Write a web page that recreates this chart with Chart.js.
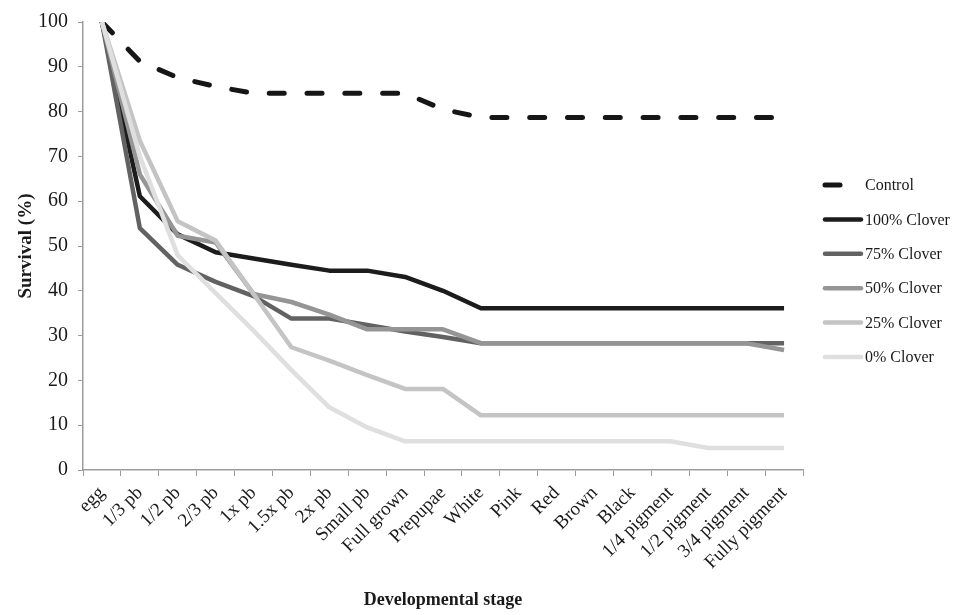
<!DOCTYPE html>
<html>
<head>
<meta charset="utf-8">
<script src="https://cdn.jsdelivr.net/npm/chart.js@4.4.1/dist/chart.umd.min.js"></script>
<style>
  html, body { margin: 0; padding: 0; background: #ffffff; }
  #wrap { width: 972px; height: 615px; }
</style>
</head>
<body>
<div id="wrap"><canvas id="chart" width="972" height="615"></canvas></div>
<script>
// Developmental stages along the x axis
const stages = ['egg', '1/3 pb', '1/2 pb', '2/3 pb', '1x pb', '1.5x pb', '2x pb', 'Small pb',
  'Full grown', 'Prepupae', 'White', 'Pink', 'Red', 'Brown', 'Black',
  '1/4 pigment', '1/2 pigment', '3/4 pigment', 'Fully pigment'];

// Survival (%) per diet
const control   = [100, 91.2, 87.6, 85.6, 84.1, 84.1, 84.1, 84.1, 84.1, 80.5, 78.7, 78.7, 78.7, 78.7, 78.7, 78.7, 78.7, 78.7, 78.7];
const clover100 = [100, 61.1, 52.6, 48.6, 47.2, 45.8, 44.5, 44.5, 43.1, 40.0, 36.1, 36.1, 36.1, 36.1, 36.1, 36.1, 36.1, 36.1, 36.1];
const clover75  = [100, 54.0, 45.8, 42.0, 38.8, 33.8, 33.8, 32.4, 30.9, 29.7, 28.3, 28.3, 28.3, 28.3, 28.3, 28.3, 28.3, 28.3, 28.3];
const clover50  = [100, 66.0, 52.3, 50.8, 39.3, 37.5, 34.7, 31.4, 31.4, 31.4, 28.3, 28.3, 28.3, 28.3, 28.3, 28.3, 28.3, 28.3, 26.8];
const clover25  = [100, 73.5, 55.5, 51.2, 39.3, 27.4, 24.4, 21.2, 18.1, 18.1, 12.2, 12.2, 12.2, 12.2, 12.2, 12.2, 12.2, 12.2, 12.2];
const clover0   = [100, 70.0, 47.9, 39.5, 31.1, 22.3, 14.0, 9.5, 6.4, 6.4, 6.4, 6.4, 6.4, 6.4, 6.4, 6.4, 4.9, 4.9, 4.9];

const seriesNames = ['Control', '100% Clover', '75% Clover', '50% Clover', '25% Clover', '0% Clover'];
const yTicks = [0, 10, 20, 30, 40, 50, 60, 70, 80, 90, 100];

const FONT = 'Liberation Serif';
const AXIS_GREY = '#9c9c9c';
const TEXT = '#1a1a1a';

// Legend drawn at the right: a line sample followed by the series name
const lineLegend = {
  id: 'lineLegend',
  afterDraw(chart) {
    const ctx = chart.ctx;
    const x0 = 825, x1 = 861, textX = 865, top = 185, step = 34.4;
    chart.data.datasets.forEach((ds, i) => {
      const y = top + i * step;
      ctx.save();
      ctx.strokeStyle = ds.borderColor;
      ctx.lineWidth = ds.borderWidth;
      ctx.lineCap = 'round';
      ctx.setLineDash(ds.borderDash ? ds.borderDash : []);
      ctx.beginPath();
      ctx.moveTo(x0, y);
      ctx.lineTo(ds.borderDash ? x0 + ds.borderDash[0] : x1, y);
      ctx.stroke();
      ctx.restore();
      ctx.save();
      ctx.fillStyle = TEXT;
      ctx.font = '16px "' + FONT + '"';
      ctx.textAlign = 'left';
      ctx.textBaseline = 'middle';
      ctx.fillText(ds.label, textX, y + 1);
      ctx.restore();
    });
  }
};

const seriesData = [control, clover100, clover75, clover50, clover25, clover0];
const seriesColors = ['#161616', '#1c1c1c', '#626262', '#959595', '#c4c4c4', '#dfdfdf'];

const datasets = seriesData.map((vals, i) => ({
  label: seriesNames[i],
  data: vals,
  borderColor: seriesColors[i],
  backgroundColor: seriesColors[i],
  borderWidth: i === 0 ? 5 : 4.5,
  borderDash: i === 0 ? [15, 22.8] : undefined,
  borderCapStyle: i === 0 ? 'round' : 'butt',
  borderJoinStyle: 'round',
  pointRadius: 0,
  tension: 0,
  fill: false,
  order: seriesData.length - i
}));

new Chart(document.getElementById('chart'), {
  type: 'line',
  data: { labels: stages, datasets },
  options: {
    responsive: false,
    animation: false,
    devicePixelRatio: 1,
    layout: { padding: { left: 0, right: 169, top: 16, bottom: 0 } },
    plugins: { legend: { display: false }, tooltip: { enabled: false } },
    scales: {
      x: {
        type: 'category',
        offset: true,
        grid: { display: true, offset: true, drawOnChartArea: false, drawTicks: true, tickLength: 6, color: AXIS_GREY, lineWidth: 1 },
        border: { display: true, color: AXIS_GREY, width: 1.5 },
        ticks: { autoSkip: false, minRotation: 45, maxRotation: 45, padding: 6, color: TEXT, font: { family: FONT, size: 19 } },
        title: { display: true, text: 'Developmental stage', color: TEXT, font: { family: FONT, size: 18, weight: 'bold' }, padding: { top: 4, bottom: 4 } },
        afterFit(scale) { scale.height = 145; }
      },
      y: {
        min: 0,
        max: 100,
        afterBuildTicks(scale) { scale.ticks = yTicks.map(v => ({ value: v })); },
        grid: { display: true, drawOnChartArea: false, drawTicks: true, tickLength: 5, color: AXIS_GREY, lineWidth: 1 },
        border: { display: true, color: AXIS_GREY, width: 1.5 },
        ticks: { padding: 10, color: TEXT, font: { family: FONT, size: 20 } },
        title: { display: true, text: 'Survival (%)', color: TEXT, font: { family: FONT, size: 19, weight: 'bold' }, padding: { top: 15, bottom: 0 } },
        afterFit(scale) { scale.width = 83; }
      }
    }
  },
  plugins: [lineLegend]
});
</script>
</body>
</html>
